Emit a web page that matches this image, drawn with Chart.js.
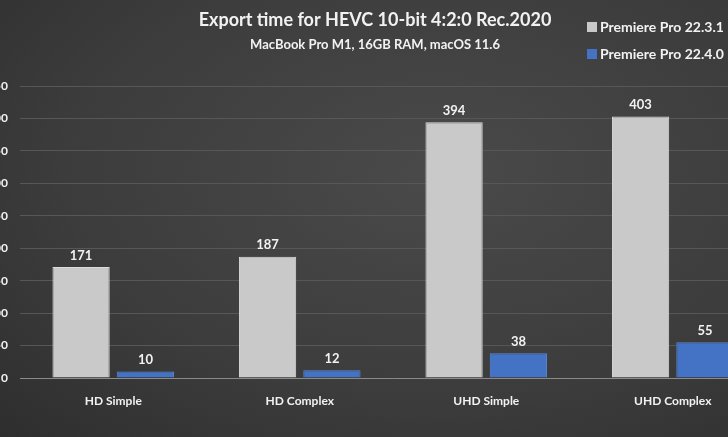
<!DOCTYPE html>
<html>
<head>
<meta charset="utf-8">
<script src="https://cdn.jsdelivr.net/npm/chart.js@4"></script>
<style>
html, body { margin: 0; padding: 0; }
body { width: 728px; height: 437px; overflow: hidden; position: relative;
  background: radial-gradient(ellipse at 60% 40%, #4a4a4a 0%, #3c3c3c 60%, #2e2e2e 100%); }
#wrap { position: absolute; left: -22px; top: 0; width: 810px; height: 437px; }
</style>
</head>
<body>
<div id="wrap"><canvas id="myChart"></canvas></div>
<script>
const categories = ["HD Simple", "HD Complex", "UHD Simple", "UHD Complex"];
const seriesNames = ["Premiere Pro 22.3.1", "Premiere Pro 22.4.0"];
const oldTimes = [171, 187, 394, 403];
const newTimes = [10, 12, 38, 55];
const titleText = "Export time for HEVC 10-bit 4:2:0 Rec.2020";
const subtitleText = "MacBook Pro M1, 16GB RAM, macOS 11.6";

const FONT = "Lato, 'Open Sans', sans-serif";
const GREY = "#c9c9c9";
const BLUE = "#4472c4";

// title, legend and value labels drawn on the canvas
const decor = {
    id: "decor",
    afterDatasetsDraw(chart) {
        const c = chart.ctx;
        c.save();
        c.fillStyle = "#f2f2f2";
        c.textAlign = "center";
        c.textBaseline = "middle";
        c.font = "bold 18px " + FONT;
        c.fillText(titleText, 397, 20);
        c.font = "bold 13px " + FONT;
        c.fillText(subtitleText, 397, 45);

        c.textAlign = "left";
        c.font = "bold 14px " + FONT;
        [GREY, BLUE].forEach((col, i) => {
            const y = 27 + i * 27;
            c.fillStyle = col;
            c.fillRect(609, y - 5, 10, 10);
            c.fillStyle = "#f2f2f2";
            c.fillText(seriesNames[i], 622, y);
        });

        c.textAlign = "center";
        c.textBaseline = "bottom";
        c.font = "bold 13px " + FONT;
        chart.data.datasets.forEach((ds, di) => {
            chart.getDatasetMeta(di).data.forEach((bar, i) => {
                c.fillText(ds.data[i], bar.x, bar.y - 5);
            });
        });
        c.restore();
    }
};

new Chart(document.getElementById("myChart").getContext("2d"), {
    type: "bar",
    data: {
        labels: categories,
        datasets: [
            { label: seriesNames[0], data: oldTimes, backgroundColor: GREY, borderColor: "#dcdcdc", borderWidth: 1 },
            { label: seriesNames[1], data: newTimes, backgroundColor: BLUE, borderColor: "#5a86d6", borderWidth: 1 }
        ]
    },
    options: {
        responsive: true,
        maintainAspectRatio: false,
        animation: false,
        layout: { padding: { top: 86, right: 22, left: 0, bottom: 0 } },
        datasets: { bar: { categoryPercentage: 0.69, barPercentage: 0.89 } },
        plugins: { legend: { display: false }, tooltip: { enabled: false } },
        scales: {
            x: {
                grid: { display: false },
                border: { color: "#8a8a8a" },
                ticks: { color: "#f2f2f2", font: { family: FONT, size: 12, weight: "bold" }, padding: 8 },
                afterFit(s) { s.height = 59; }
            },
            y: {
                min: 0, max: 450,
                grid: { color: "#575757", drawTicks: false },
                border: { display: false },
                ticks: { stepSize: 50, color: "#f2f2f2", font: { family: FONT, size: 12, weight: "bold" }, padding: 12 },
                afterFit(s) { s.width = 42; }
            }
        }
    },
    plugins: [decor]
});
</script>
</body>
</html>
